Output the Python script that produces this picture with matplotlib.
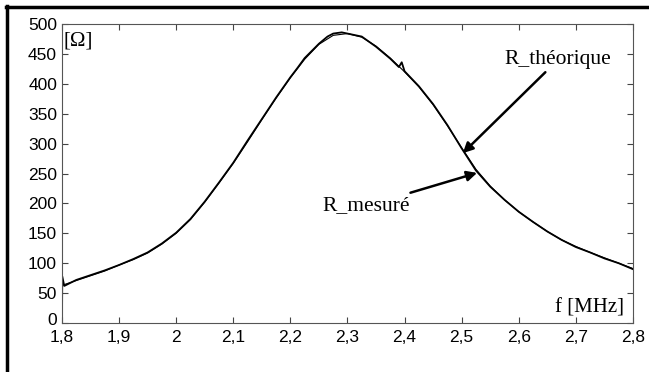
import numpy as np
import matplotlib.pyplot as plt
import matplotlib.transforms as mtransforms
from matplotlib.lines import Line2D

# frequences [MHz] et resistances [Ohm]
f_theo = [1.800, 1.825, 1.850, 1.875, 1.900, 1.925, 1.950, 1.975, 2.000, 2.025,
          2.050, 2.075, 2.100, 2.125, 2.150, 2.175, 2.200, 2.225, 2.250, 2.275,
          2.300, 2.325, 2.350, 2.375, 2.400, 2.425, 2.450, 2.475, 2.500, 2.525,
          2.550, 2.575, 2.600, 2.625, 2.650, 2.675, 2.700, 2.725, 2.750, 2.775, 2.800]
R_theo = [63, 71, 79, 87, 97, 106, 117, 132, 150, 173,
          202, 234, 267, 303, 340, 376, 410, 441, 466, 481,
          484, 478, 463, 443, 420, 395, 365, 330, 293, 257,
          229, 206, 186, 169, 153, 139, 128, 118, 109, 100, 91]

f_mes = [1.800, 1.8005, 1.804, 1.825, 1.850, 1.875, 1.900, 1.925, 1.950, 1.975, 2.000, 2.025,
         2.050, 2.075, 2.100, 2.125, 2.150, 2.175, 2.200, 2.212, 2.225, 2.250, 2.265, 2.275,
         2.290, 2.300, 2.325, 2.350, 2.375, 2.390, 2.395, 2.400, 2.425, 2.450, 2.475, 2.500, 2.525,
         2.550, 2.575, 2.600, 2.625, 2.650, 2.675, 2.700, 2.725, 2.750, 2.775, 2.800]
R_mes = [0, 78, 62, 72, 80, 88, 97, 107, 118, 133, 151, 174,
         203, 235, 268, 305, 341, 377, 411, 426, 443, 467, 479, 484,
         486, 484, 479, 462, 442, 428, 436, 421, 396, 366, 331, 292, 255,
         228, 206, 186, 169, 153, 139, 127, 118, 108, 100, 90]

xticks = [1.8, 1.9, 2.0, 2.1, 2.2, 2.3, 2.4, 2.5, 2.6, 2.7, 2.8]
xlabels = ['1,8', '1,9', '2', '2,1', '2,2', '2,3', '2,4', '2,5', '2,6', '2,7', '2,8']
yticks = list(range(0, 501, 50))

fig = plt.figure(figsize=(6.49, 3.72), dpi=100)
ax = fig.add_axes([0.0955, 0.1317, 0.8798, 0.8038])

ax.plot(f_theo, R_theo, color='black', lw=0.8)
ax.plot(f_mes, R_mes, color='black', lw=1.3)

ax.set_xlim(1.8, 2.8)
ax.set_ylim(0, 500)
ax.set_xticks(xticks)
ax.set_xticklabels(xlabels)
ax.set_yticks(yticks)
ax.tick_params(direction='in', length=4, width=0.8, color='#444444', top=True, right=True,
               labelsize=12.5, pad=3.5)
ax.tick_params(axis='x', pad=5)
for lab in ax.get_xticklabels() + ax.get_yticklabels():
    lab.set_family('Liberation Sans')
# le "0" remonte un peu pour ne pas toucher "1,8"
lab0 = ax.get_yticklabels()[0]
lab0.set_transform(lab0.get_transform() + mtransforms.ScaledTranslation(0, 3 / 72, fig.dpi_scale_trans))
for s in ax.spines.values():
    s.set_color('#555555')
    s.set_linewidth(0.8)

serif = 'Liberation Serif'
ax.text(1.802, 487, '[\u03a9]', family=serif, fontsize=15, va='top', ha='left')
ax.text(2.785, 10, 'f [MHz]', family=serif, fontsize=15, va='bottom', ha='right')

ax.annotate('R_th\u00e9orique', xy=(2.502, 284), xytext=(2.575, 424),
            family=serif, fontsize=15.5, ha='left', va='bottom',
            arrowprops=dict(arrowstyle='-|>', color='black', lw=1.8, shrinkA=0, shrinkB=0,
                            mutation_scale=15))
ax.annotate('R_mesur\u00e9', xy=(2.527, 251), xytext=(2.41, 196),
            family=serif, fontsize=15.5, ha='right', va='center',
            arrowprops=dict(arrowstyle='-|>', color='black', lw=1.8, shrinkA=2, shrinkB=0,
                            mutation_scale=15))

# cadre epais en haut et a gauche
fig.add_artist(Line2D([7 / 649, 7 / 649], [0, 1 - 6 / 372], color='black', lw=2.5,
                      transform=fig.transFigure))
fig.add_artist(Line2D([6 / 649, 1], [1 - 6.5 / 372, 1 - 6.5 / 372], color='black', lw=2.5,
                      transform=fig.transFigure))

fig.savefig('out.png', dpi=100)
